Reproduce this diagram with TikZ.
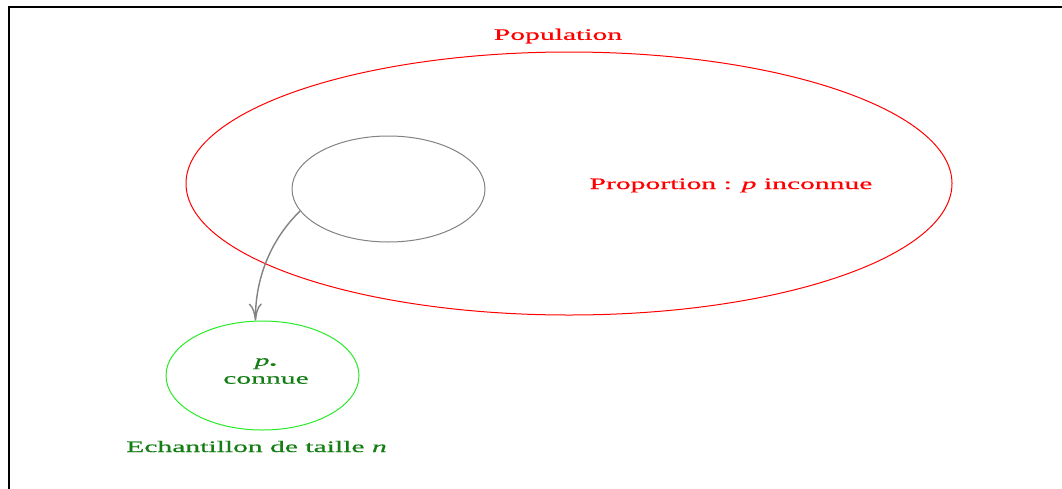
\documentclass[tikz,border=0pt]{standalone}
\usepackage{fontspec}
\setmainfont[FakeStretch=1.85,FakeBold=0.6]{Liberation Serif}
\usetikzlibrary{shapes.geometric,arrows.meta}
\definecolor{popred}{RGB}{255,0,0}
\definecolor{samplegreen}{RGB}{40,235,40}
\definecolor{textgreen}{RGB}{20,125,20}
\definecolor{circgray}{RGB}{130,130,130}
\tikzset{
  lbl/.style={inner sep=0pt, font=\fontsize{16}{18}\selectfont},
  oval/.style={ellipse, inner sep=0pt, line width=1pt},
}
\begin{document}
\begin{tikzpicture}[x=1pt,y=-1pt]
\useasboundingbox (0,0) rectangle (1062,488);
\fill[white] (0,0) rectangle (1062,488);
% frame
\coordinate (ftl) at (9,7);
\coordinate (ftr) at (1063,7);
\coordinate (fbl) at (9,489);
\draw[line width=2.2pt] (fbl) -- (ftl) -- (ftr);
% population
\node[oval, draw=popred, minimum width=766pt, minimum height=263pt] (pop) at (569,183.5) {};
\node[lbl, text=popred] (poplbl) at (558,36) {Population};
\node[lbl, text=popred, anchor=base] (prop) at (731,189) {Proportion : \textit{p} inconnue};
% gray sample region
\node[oval, draw=circgray, minimum width=193pt, minimum height=106pt] (sub) at (388.5,189) {};
% sample
\node[oval, draw=samplegreen, minimum width=193pt, minimum height=109pt] (smp) at (262.5,375.5) {};
\node[lbl, text=textgreen, align=center, font=\fontsize{16}{18}\selectfont] (smplbl) at (266,371) {\textit{p}\textsubscript{•}\\connue};
\node[lbl, text=textgreen, anchor=base] (ech) at (256.5,452) {Echantillon de taille \textit{n}};
% arrow
\draw[circgray, line width=1.4pt, -{To[length=17pt,width=13pt]}] (sub.194) .. controls (270,240) and (255,280) .. ([xshift=-7pt]smp.north);
\end{tikzpicture}
\end{document}
